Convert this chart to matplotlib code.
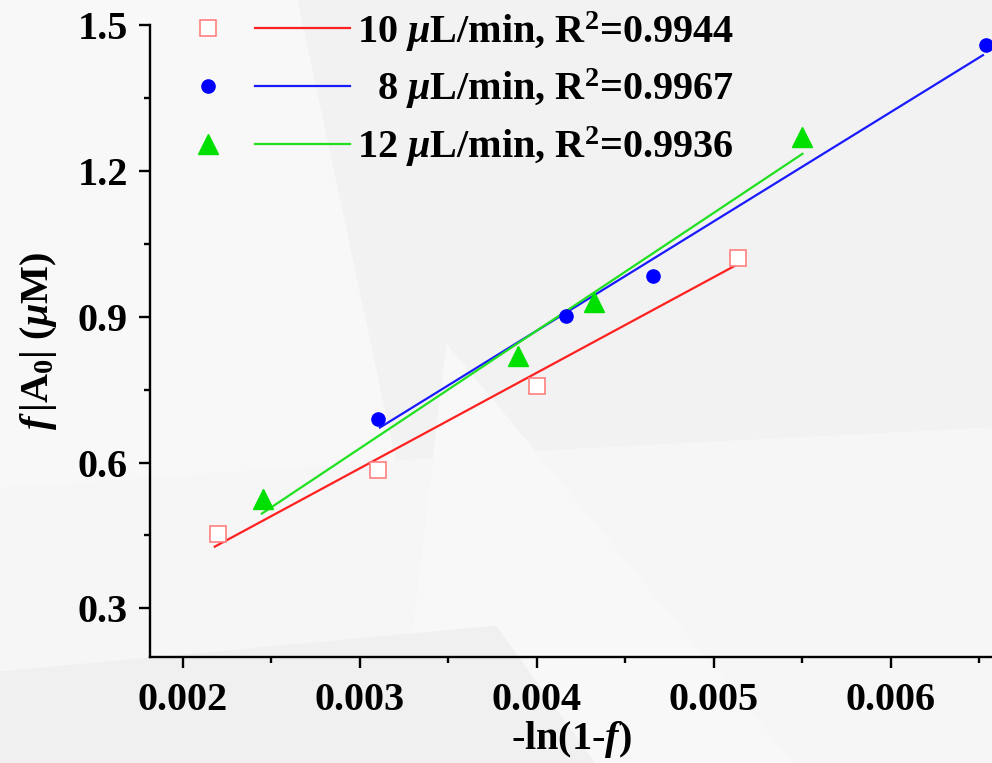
import matplotlib
matplotlib.use("Agg")
from matplotlib import pyplot as plt
from matplotlib.legend_handler import HandlerTuple
from matplotlib.lines import Line2D
from matplotlib.patches import Polygon
from matplotlib.ticker import MultipleLocator, FormatStrFormatter


# 10 uL/min
x10 = [0.00220, 0.00310, 0.00400, 0.005136]
y10 = [0.452, 0.584, 0.758, 1.021]
fit10_x = [0.00218, 0.00514]
fit10_y = [0.427, 1.009]

# 8 uL/min
x8 = [0.00310, 0.004164, 0.004655, 0.006537]
y8 = [0.690, 0.902, 0.984, 1.459]
fit8_x = [0.003113, 0.00652]
fit8_y = [0.672, 1.438]

# 12 uL/min
x12 = [0.002452, 0.003893, 0.00432, 0.00550]
y12 = [0.526, 0.820, 0.931, 1.270]
fit12_x = [0.002446, 0.00550]
fit12_y = [0.495, 1.235]

labels = [r"10 $\mu$L/min, R$^2$=0.9944",
          r"  8 $\mu$L/min, R$^2$=0.9967",
          r"12 $\mu$L/min, R$^2$=0.9936"]

FS = 29

plt.rcParams["font.family"] = ["Liberation Serif", "DejaVu Serif"]
plt.rcParams["font.weight"] = "bold"
plt.rcParams["mathtext.fontset"] = "custom"
plt.rcParams["mathtext.rm"] = "Liberation Serif:bold"
plt.rcParams["mathtext.it"] = "Liberation Serif:italic:bold"
plt.rcParams["mathtext.bf"] = "Liberation Serif:bold"

fig = plt.figure(figsize=(9.92, 7.63), dpi=100)
fig.patch.set_facecolor("#f4f4f4")

# light low-poly background
bg = [
    ([(0, 1), (0, 0.36), (0.55, 0.41), (1, 0.44), (1, 1)], "#f2f2f2"),
    ([(0, 1), (0, 0.36), (0.40, 0.39), (0.30, 1)], "#f8f8f8"),
    ([(0, 0.36), (0, 0), (1, 0), (1, 0.44), (0.55, 0.41)], "#f6f6f6"),
    ([(0.45, 0.55), (0.80, 0.0), (0.40, 0.0)], "#f8f8f8"),
    ([(0, 0.12), (0, 0), (0.6, 0), (0.5, 0.18)], "#f0f0f0"),
]
for pts, col in bg:
    fig.patches.append(Polygon(pts, closed=True, transform=fig.transFigure,
                               facecolor=col, edgecolor="none", zorder=-5))

ax = fig.add_axes([150 / 992, 1 - 657 / 763, 1 - 150 / 992, (657 - 25) / 763])
ax.patch.set_alpha(0)

ax.plot(fit10_x, fit10_y, color="#ff2020", lw=1.6, zorder=2)
ax.plot(fit8_x, fit8_y, color="#1a1aff", lw=1.6, zorder=2)
ax.plot(fit12_x, fit12_y, color="#20e020", lw=1.6, zorder=2)

ax.plot(x10, y10, "s", ms=11, mfc="white", mec="#ff8080", mew=1.2,
        ls="none", zorder=3, clip_on=False)
ax.plot(x8, y8, "o", ms=9.5, color="#0000ff", ls="none", zorder=3, clip_on=False)
ax.plot(x12, y12, "^", ms=14, color="#00e000", ls="none", zorder=3, clip_on=False)

ax.set_xlim(0.001814, 0.006571)
ax.set_ylim(0.2, 1.5)
ax.set_xticks([0.002, 0.003, 0.004, 0.005, 0.006])
ax.set_yticks([0.3, 0.6, 0.9, 1.2, 1.5])
ax.xaxis.set_minor_locator(MultipleLocator(0.0005))
ax.yaxis.set_minor_locator(MultipleLocator(0.15))
ax.xaxis.set_major_formatter(FormatStrFormatter("%.3f"))
ax.yaxis.set_major_formatter(FormatStrFormatter("%.1f"))

for s in ["top", "right"]:
    ax.spines[s].set_visible(False)
for s in ["left", "bottom"]:
    ax.spines[s].set_linewidth(1.7)

ax.tick_params(axis="x", which="major", direction="out", length=8, width=1.7,
               labelsize=FS, pad=10)
ax.tick_params(axis="y", which="major", direction="out", length=8, width=1.7,
               labelsize=FS, pad=8)
ax.tick_params(axis="both", which="minor", direction="out", length=4, width=1.7)
for lab in ax.get_xticklabels() + ax.get_yticklabels():
    lab.set_fontweight("bold")

ax.set_xlabel(r"-ln(1-$f$)", fontsize=FS, fontweight="bold", labelpad=0)
ax.set_ylabel(r"$f\,$|A$_0$| ($\mu$M)", fontsize=FS, fontweight="bold", labelpad=13)

m10 = Line2D([], [], marker="s", ms=11, mfc="white", mec="#ff8080", mew=1.2, ls="none")
m8 = Line2D([], [], marker="o", ms=9.5, color="#0000ff", ls="none")
m12 = Line2D([], [], marker="^", ms=14, color="#00e000", ls="none")
l10 = Line2D([], [], color="#ff2020", lw=1.6)
l8 = Line2D([], [], color="#1a1aff", lw=1.6)
l12 = Line2D([], [], color="#20e020", lw=1.6)

fig.legend([(m10, l10), (m8, l8), (m12, l12)], labels,
           handler_map={tuple: HandlerTuple(ndivide=None, pad=0)},
           loc="upper left", bbox_to_anchor=(160 / 992, 1 - 9 / 763),
           bbox_transform=fig.transFigure, frameon=False,
           fontsize=FS, handlelength=4.72, handletextpad=0.18, labelspacing=0.33,
           borderpad=0, borderaxespad=0)

fig.savefig("out.png", dpi=100, facecolor=fig.get_facecolor())
